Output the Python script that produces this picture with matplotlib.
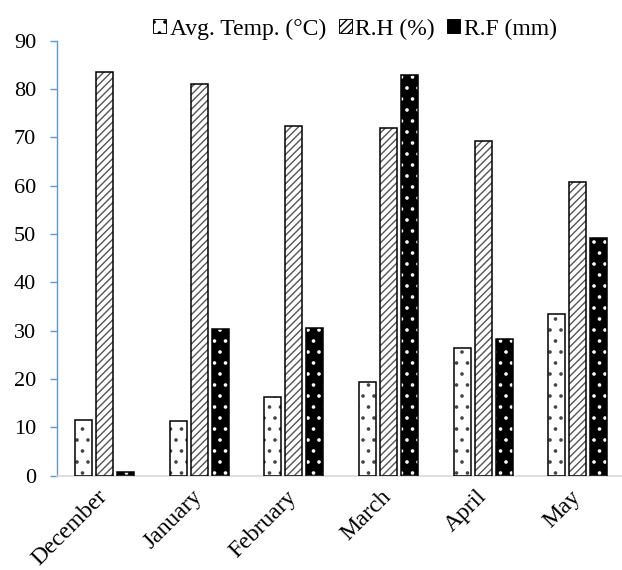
import matplotlib
matplotlib.use("Agg")
import matplotlib.pyplot as plt
import numpy as np
from matplotlib.patches import Patch

months = ["December", "January", "February", "March", "April", "May"]
avg_temp = [11.6, 11.4, 16.2, 19.3, 26.4, 33.4]
rel_hum = [83.6, 81.0, 72.4, 71.9, 69.3, 60.7]
rain = [0.7, 30.3, 30.6, 83.0, 28.3, 49.2]
series_labels = ["Avg. Temp. (\u00b0C)", "R.H (%)", "R.F (mm)"]
yticks = [0, 10, 20, 30, 40, 50, 60, 70, 80, 90]

DPI = 200 / 3          # chosen so hatch spacing matches the reference
K = 100 / DPI          # point-size multiplier to keep pixel sizes

plt.rcParams['font.family'] = ['Liberation Serif', 'DejaVu Serif']
plt.rcParams['hatch.linewidth'] = 1.0 * K

fig = plt.figure(figsize=(622 / DPI, 570 / DPI), dpi=DPI)
ax = fig.add_axes([57/622, 1-475.7/570, 1-57/622, (475.7-40.7)/570])

x = np.arange(len(months))
w = 0.18
step = 0.222

def draw(vals, offset, face, hatch, hcolor):
    ax.bar(x + offset, vals, w, color=face, hatch=hatch, edgecolor=hcolor,
           linewidth=0, zorder=2)
    ax.bar(x + offset, vals, w, fill=False, edgecolor='black',
           linewidth=1.1 * K, zorder=3)

draw(avg_temp, -step, 'white', '.', '#444444')
draw(rel_hum, 0, 'white', '///', '#555555')
draw(rain, step, 'black', '.', 'white')

ax.set_ylim(0, 90)
ax.set_xlim(-0.5, -0.5 + 565/94.7)
ax.set_yticks(yticks)
ax.set_xticks(x)
ax.set_xticklabels(months, rotation=45, ha='right', va='center',
                   rotation_mode='anchor', fontsize=17 * K)
ax.tick_params(axis='y', labelsize=16 * K, length=5 * K, color='#5b9bd5',
               width=1 * K, pad=10 * K)
ax.tick_params(axis='x', length=0, pad=13 * K)

for s in ['top', 'right']:
    ax.spines[s].set_visible(False)
ax.spines['left'].set_color('#5b9bd5')
ax.spines['left'].set_linewidth(1 * K)
ax.spines['bottom'].set_color('#d9d9d9')
ax.spines['bottom'].set_linewidth(1.2 * K)

handles = [
    Patch(facecolor='white', edgecolor='black', hatch='.', label=series_labels[0]),
    Patch(facecolor='white', edgecolor='black', hatch='///', label=series_labels[1]),
    Patch(facecolor='black', edgecolor='black', label=series_labels[2]),
]
ax.legend(handles=handles, loc='center', bbox_to_anchor=((355-57)/565, 1 + (40.7-29)/435),
          ncol=3, frameon=False, fontsize=17 * K, handlelength=0.55, handleheight=0.55,
          handletextpad=0.13, columnspacing=0.55, borderaxespad=0, borderpad=0)

fig.savefig("out.png", dpi=DPI)
